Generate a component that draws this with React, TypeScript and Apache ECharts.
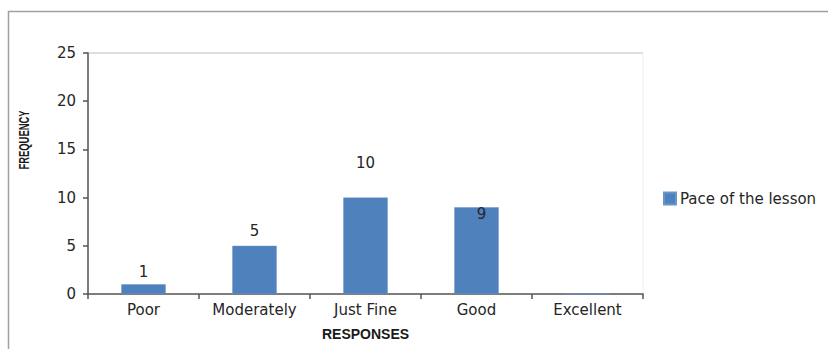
import React, { useEffect, useRef } from "react";
import * as echarts from "echarts";

// Survey responses on the pace of the lesson
const categories = ["Poor", "Moderately", "Just Fine", "Good", "Excellent"];
const frequency = [1, 5, 10, 9, 0];
const seriesName = "Pace of the lesson";
const yTicks = [0, 5, 10, 15, 20, 25];

// Where each value label sits relative to its bar (x, y shift in px)
const labelShift: [number, number][] = [
  [0, 0],
  [0, -2],
  [0, -22],
  [5, 19],
  [0, 0],
];

const FONT = "DejaVu Sans, Verdana, sans-serif";

export default function App() {
  const ref = useRef<HTMLDivElement>(null);

  useEffect(() => {
    if (!ref.current) return;
    const chart = echarts.init(ref.current, null, { renderer: "svg" });

    const data = frequency.map((v, i) => ({
      value: v,
      label: {
        show: v > 0,
        offset: labelShift[i],
      },
    }));

    chart.setOption({
      animation: false,
      backgroundColor: "#ffffff",
      textStyle: { fontFamily: FONT },
      grid: {
        left: 88,
        right: 185,
        top: 53,
        bottom: 55,
        show: true,
        borderColor: "#f0f0f0",
        borderWidth: 1,
      },
      legend: {
        show: true,
        left: 663,
        top: 191,
        padding: 0,
        orient: "vertical",
        itemWidth: 12,
        itemHeight: 12,
        itemGap: 4,
        icon: "rect",
        textStyle: { fontFamily: FONT, fontSize: 15, color: "#262626", padding: [0, 0, 0, -1] },
        data: [seriesName],
      },
      xAxis: {
        type: "category",
        data: categories,
        boundaryGap: true,
        axisLine: { show: true, lineStyle: { color: "#555555", width: 1.5 } },
        axisTick: { show: true, alignWithLabel: false, length: 5, lineStyle: { color: "#555555", width: 1.5 } },
        axisLabel: { color: "#262626", fontSize: 15, fontFamily: FONT, margin: 8 },
        splitLine: { show: false },
        name: "RESPONSES",
        nameLocation: "middle",
        nameGap: 33,
        nameTextStyle: {
          fontFamily: "Liberation Sans, Arial, sans-serif",
          fontWeight: "bold",
          fontSize: 14,
          color: "#1a1a1a",
        },
      },
      yAxis: {
        type: "value",
        min: yTicks[0],
        max: yTicks[yTicks.length - 1],
        interval: 5,
        axisLine: { show: true, lineStyle: { color: "#555555", width: 1.5 } },
        axisTick: { show: true, length: 5, lineStyle: { color: "#555555", width: 1.5 } },
        axisLabel: { color: "#262626", fontSize: 15, fontFamily: FONT, margin: 12 },
        splitLine: {
          show: true,
          lineStyle: {
            color: ["transparent", "transparent", "transparent", "transparent", "transparent", "#dedede"],
            width: 2,
          },
        },
      },
      graphic: [
        {
          type: "rect",
          left: 6,
          top: 9,
          shape: { width: 900, height: 400 },
          style: { fill: "none", stroke: "#a0a0a0", lineWidth: 1.5 },
          silent: true,
        },
        {
          // Condensed bold axis title, rotated to read bottom-up
          type: "text",
          x: 24,
          y: 140,
          rotation: Math.PI / 2,
          scaleX: 0.67,
          style: {
            text: "FREQUENCY",
            align: "center",
            verticalAlign: "middle",
            fontFamily: "Liberation Sans, Arial, sans-serif",
            fontWeight: "bold",
            fontSize: 14,
            fill: "#1a1a1a",
          },
        },
      ],
      series: [
        {
          name: seriesName,
          type: "bar",
          data,
          barWidth: "40%",
          itemStyle: { color: "#4f81bd", borderColor: "#6b95c8", borderWidth: 0.5 },
          label: {
            position: "top",
            distance: 5,
            color: "#262626",
            fontSize: 15,
            fontFamily: FONT,
          },
        },
      ],
    });

    return () => chart.dispose();
  }, []);

  return (
    <div
      ref={ref}
      style={{ position: "absolute", left: 0, top: 0, width: 828, height: 349 }}
    />
  );
}
